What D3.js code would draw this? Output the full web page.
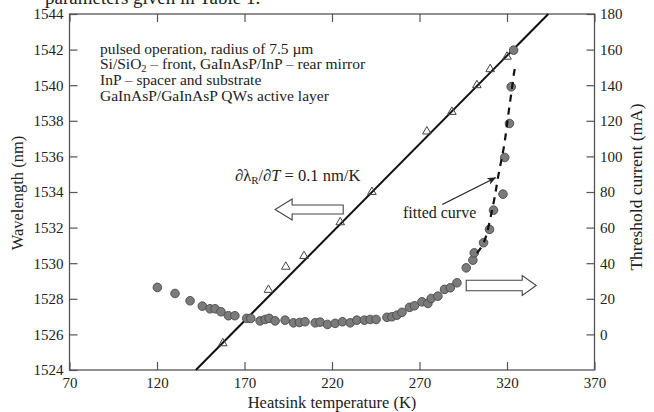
<!DOCTYPE html>
<html><head><meta charset="utf-8">
<script src="https://cdn.jsdelivr.net/npm/d3@7"></script>
<style>
body{margin:0;background:#fff}
svg{display:block}
text{font-family:"Liberation Serif","Times New Roman",serif;fill:#222}
</style>
</head><body>
<svg id="c" width="654" height="412"></svg>
<script>
// ---- data ----
const xTicks = [70,120,170,220,270,320,370];
const wlTicks = [1524,1526,1528,1530,1532,1534,1536,1538,1540,1542,1544];
const curTicks = [0,20,40,60,80,100,120,140,160,180];

// linear fit of resonance wavelength (0.1 nm/K)
const wlFitTemps = [142.2, 343.6];
const wlFitValues = [1524.0, 1544.0];

// measured wavelength (triangles)
const wlTemps  = [157.6,183.7,193.6,204.0,224.7,242.8,274.2,288.5,302.8,310.4,320.0];
const wlValues = [1525.5,1528.5,1529.8,1530.4,1532.3,1534.0,1537.4,1538.5,1540.0,1540.9,1541.6];

// threshold current (circles)
const thTemps = [120.2,130.3,138.9,145.9,150.3,153.2,156.6,160.8,164.5,171.3,173.6,178.9,181.8,184.1,187.5,193.2,198.0,201.4,204.6,210.4,213.2,217.4,221.8,226.0,230.4,234.2,238.5,241.8,245.2,251.4,254.2,257.1,260.0,264.3,267.1,271.4,274.8,276.7,280.5,284.3,287.6,291.4,296.7,300.5,301.3,306.6,310.0,312.3,317.7,318.7,321.4,322.4,323.8];
const thValues = [26.4,23.0,18.9,15.9,14.4,14.4,12.7,10.5,10.5,9.0,9.0,7.6,8.4,9.0,7.6,8.0,6.5,6.7,7.1,6.5,6.9,5.6,6.2,7.1,6.5,8.0,8.0,8.4,8.4,9.6,9.9,10.8,12.4,15.2,16.1,18.3,17.4,20.2,21.5,25.3,26.2,29.0,37.4,41.7,45.8,51.5,59.0,69.8,78.8,99.4,118.5,139.1,159.7];

// fitted curve (dashed)
const fitTemps  = [302.8,306.6,312.3,315.1,318.4,320.7,322.7,324.1,325.3];
const fitValues = [45.7,51.3,73.8,89.5,106.4,123.2,137.2,147.4,152.4];

// ---- scales ----
const svg = d3.select("#c");
const L = 69.5, R = 594.5, T = 14, B = 370;
const x = d3.scaleLinear().domain([70,370]).range([L,R]);
const yL = d3.scaleLinear().domain([1524,1544]).range([B,T]);
const yR = d3.scaleLinear().domain([-20,180]).range([B,T]);

const axisColor = "#555";
const fmt = d3.format("d");

// clipped text from the page above
svg.append("text").attr("x",45).attr("y",3.5).style("font-size","19px").text("parameters given in Table 1.");

// frame
svg.append("rect").attr("x",L).attr("y",T).attr("width",R-L).attr("height",B-T)
  .attr("fill","none").attr("stroke",axisColor).attr("stroke-width",1.3);

function styleAxis(g){
  g.attr("font-family",null).attr("font-size",null);
  g.select(".domain").remove();
  g.selectAll("line").attr("stroke",axisColor).attr("stroke-width",1.2);
  g.selectAll("text").style("font-size","15px").attr("fill","#222")
   .style("font-family",'"Liberation Serif","Times New Roman",serif');
}

svg.append("g").attr("transform",`translate(0,${B})`)
  .call(d3.axisBottom(x).tickValues(xTicks).tickFormat(fmt).tickSizeInner(-8).tickSizeOuter(0).tickPadding(7))
  .call(styleAxis);
svg.append("g").attr("transform",`translate(0,${T})`)
  .call(d3.axisTop(x).tickValues(xTicks).tickSizeInner(-8).tickSizeOuter(0).tickFormat(""))
  .call(styleAxis);
svg.append("g").attr("transform",`translate(${L},0)`)
  .call(d3.axisLeft(yL).tickValues(wlTicks).tickFormat(fmt).tickSizeInner(-8).tickSizeOuter(0).tickPadding(6))
  .call(styleAxis);
svg.append("g").attr("transform",`translate(${R},0)`)
  .call(d3.axisRight(yR).tickValues(curTicks).tickFormat(fmt).tickSizeInner(-8).tickSizeOuter(0).tickPadding(5.5))
  .call(styleAxis);

// axis titles
svg.append("text").attr("x",332).attr("y",408).attr("text-anchor","middle")
  .style("font-size","16.5px").text("Heatsink temperature (K)");
svg.append("text").attr("transform",`translate(23,193) rotate(-90)`).attr("text-anchor","middle")
  .style("font-size","16.5px").text("Wavelength (nm)");
svg.append("text").attr("transform",`translate(642,187) rotate(-90)`).attr("text-anchor","middle")
  .style("font-size","17.5px").text("Threshold current (mA)");

// wavelength fit line
const wlFit = wlFitTemps.map((t,i)=>[t,wlFitValues[i]]);
svg.append("path").datum(wlFit)
  .attr("d", d3.line().x(d=>x(d[0])).y(d=>yL(d[1])))
  .attr("stroke","#111").attr("stroke-width",2).attr("fill","none");

// triangles
const tri = d3.symbol().type(d3.symbolTriangle).size(32);
svg.append("g").selectAll("path").data(wlTemps.map((t,i)=>[t,wlValues[i]])).join("path")
  .attr("d",tri).attr("transform",d=>`translate(${x(d[0])},${yL(d[1])})`)
  .attr("fill","none").attr("stroke","#444").attr("stroke-width",1);

// threshold circles
svg.append("g").selectAll("circle").data(thTemps.map((t,i)=>[t,thValues[i]])).join("circle")
  .attr("cx",d=>x(d[0])).attr("cy",d=>yR(d[1])).attr("r",4.3)
  .attr("fill","#7b7b7b").attr("stroke","#4a4a4a").attr("stroke-width",0.9);

// fitted dashed curve
const fit = fitTemps.map((t,i)=>[t,fitValues[i]]);
svg.append("path").datum(fit)
  .attr("d", d3.line().x(d=>x(d[0])).y(d=>yR(d[1])).curve(d3.curveCatmullRom))
  .attr("stroke","#111").attr("stroke-width",2.2).attr("fill","none")
  .attr("stroke-dasharray","7,6");

// annotation block
const ann = svg.append("g").style("font-size","15.5px");
ann.append("text").attr("x",100).attr("y",53.5).text("pulsed operation, radius of 7.5 µm");
const l2 = ann.append("text").attr("x",100).attr("y",69);
l2.append("tspan").text("Si/SiO");
l2.append("tspan").attr("dy",2.5).style("font-size","10.5px").text("2");
l2.append("tspan").attr("dy",-2.5).text(" – front, GaInAsP/InP – rear mirror");
ann.append("text").attr("x",100).attr("y",84.5).text("InP – spacer and substrate");
ann.append("text").attr("x",100).attr("y",100.5).text("GaInAsP/GaInAsP QWs active layer");

// slope label
const sl = svg.append("text").attr("x",235).attr("y",180.5).style("font-size","16.5px");
sl.append("tspan").text("∂λ");
sl.append("tspan").attr("dy",3.5).style("font-size","11px").text("R");
sl.append("tspan").attr("dy",-3.5).text("/∂");
sl.append("tspan").style("font-style","italic").text("T");
sl.append("tspan").text(" = 0.1 nm/K");

// hollow block arrows (positions in data space)
function blockArrow(x0,x1,yc,shaftH,headH,headL){
  const dir = Math.sign(x1-x0);
  const hb = x1 - dir*headL;
  const p = d3.path();
  p.moveTo(x0,yc-shaftH/2); p.lineTo(hb,yc-shaftH/2); p.lineTo(hb,yc-headH/2);
  p.lineTo(x1,yc); p.lineTo(hb,yc+headH/2); p.lineTo(hb,yc+shaftH/2);
  p.lineTo(x0,yc+shaftH/2); p.closePath();
  svg.append("path").attr("d",p.toString()).attr("fill","#fff").attr("stroke","#444").attr("stroke-width",1.1);
}
blockArrow(x(226.4), x(187.5), yL(1533.02), 9, 21, 17);
blockArrow(x(296.7), x(336.7), yR(27.5), 10.5, 20, 14);

// fitted curve label + pointer
svg.append("text").attr("x",403).attr("y",218).style("font-size","16px").text("fitted curve");
svg.append("defs").append("marker").attr("id","ah").attr("viewBox","0 0 10 10")
  .attr("refX",9).attr("refY",5).attr("markerWidth",7).attr("markerHeight",7).attr("orient","auto")
  .append("path").attr("d","M0,1 L10,5 L0,9 L3,5 Z").attr("fill","#222");
svg.append("line").attr("x1",x(283)).attr("y1",yR(73)).attr("x2",x(313.4)).attr("y2",yR(88))
  .attr("stroke","#222").attr("stroke-width",1.3).attr("marker-end","url(#ah)");
</script>
</body></html>
